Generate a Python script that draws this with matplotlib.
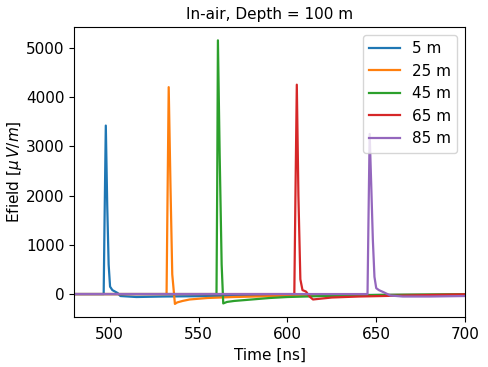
import numpy as np
import matplotlib.pyplot as plt

# Pulse shapes (time in ns, Efield in uV/m)
labels = ["5 m", "25 m", "45 m", "65 m", "85 m"]

t_5 = [480, 496.6, 497.1, 497.8, 498.6, 499.4, 500.2, 501.5, 503.0, 504.5, 506.0, 515, 530, 560, 600, 700]
v_5 = [0, 0, 1500, 3420, 1800, 600, 150, 80, 50, 20, -40, -60, -50, -40, -25, -10]

t_25 = [480, 532.0, 532.5, 533.2, 534.2, 535.2, 536.7, 538, 541, 545, 555, 570, 600, 650, 700]
v_25 = [0, 0, 1800, 4200, 2200, 400, -200, -170, -140, -110, -80, -60, -35, -20, -10]

t_45 = [480, 560.1, 560.5, 560.9, 561.9, 563.0, 563.9, 566, 570, 580, 590, 600, 620, 650, 700]
v_45 = [0, 0, 2200, 5150, 2800, 600, -190, -160, -140, -110, -80, -60, -40, -20, -5]

t_65 = [480, 603.9, 604.5, 605.3, 606.2, 607.3, 608.5, 610.5, 612.5, 614.4, 617, 625, 640, 660, 680, 700]
v_65 = [0, 0, 1900, 4250, 2000, 300, 80, 50, -50, -110, -100, -70, -50, -35, -20, -5]

t_85 = [480, 645.1, 645.6, 646.3, 647.2, 648.1, 649.0, 650.0, 651.5, 654, 658, 665, 680, 700]
v_85 = [0, 0, 1400, 3250, 2200, 1100, 350, 120, 80, 40, -30, -50, -50, -40]

times = [t_5, t_25, t_45, t_65, t_85]
values = [v_5, v_25, v_45, v_65, v_85]

fig = plt.figure(figsize=(4.88, 3.67), dpi=100)
ax = fig.add_axes([0.152, 0.136, 0.801, 0.790])

for t, v, lab in zip(times, values, labels):
    ax.plot(t, v, label=lab, linewidth=1.6)

ax.set_xlim(480, 700)
ax.set_title("In-air, Depth = 100 m", fontsize=11)
ax.set_xlabel("Time [ns]", fontsize=11)
ax.set_ylabel(r"Efield [$\mu\,V/m$]", fontsize=11, labelpad=1)
ax.tick_params(labelsize=11)
ax.legend(fontsize=11, loc="upper right")

fig.savefig("out.png", dpi=100)
